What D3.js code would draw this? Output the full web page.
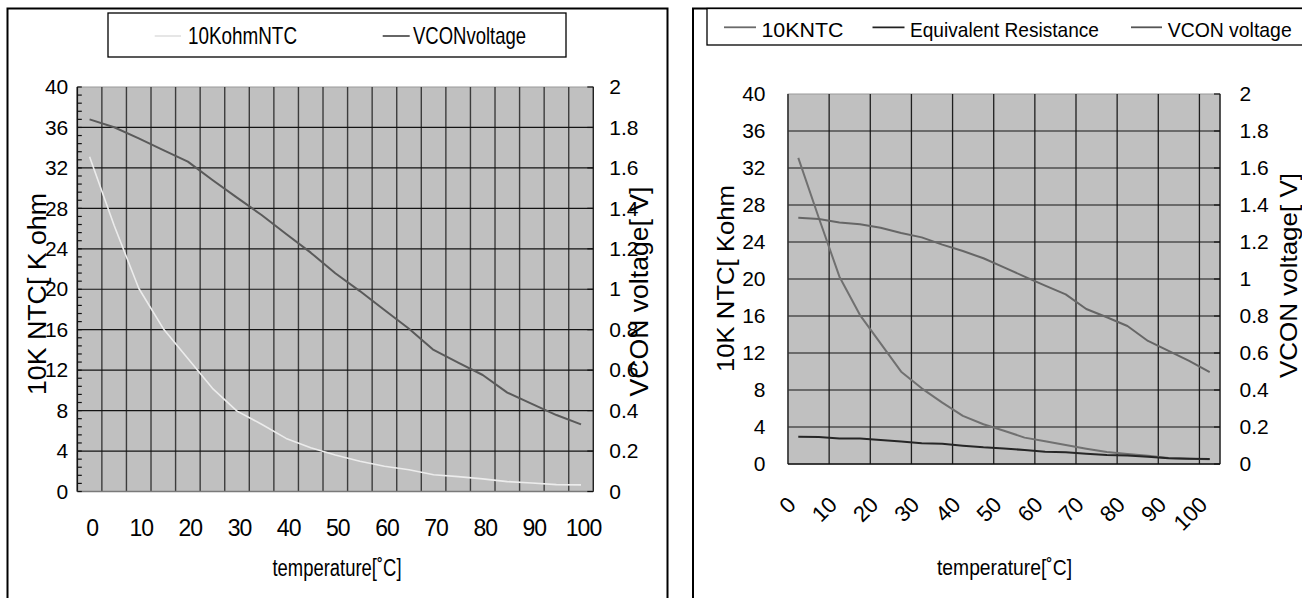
<!DOCTYPE html>
<html><head><meta charset="utf-8">
<script src="https://cdn.jsdelivr.net/npm/d3@7"></script>
<style>
body{margin:0;background:#fff;}
svg{display:block;font-family:"Liberation Sans",Arial,sans-serif;}
</style></head><body>
<svg id="c" width="1302" height="598"></svg>
<script>
// ---------- data ----------
const temps = [0,5,10,15,20,25,30,35,40,45,50,55,60,65,70,75,80,85,90,95,100];
const xTickValues = [0,10,20,30,40,50,60,70,80,90,100];
const xTickLabels = ["0","10","20","30","40","50","60","70","80","90","100"];
const leftTicks = [0,4,8,12,16,20,24,28,32,36,40];
const leftTickLabels = ["0","4","8","12","16","20","24","28","32","36","40"];
const rightTicks = [0,0.2,0.4,0.6,0.8,1,1.2,1.4,1.6,1.8,2];
const rightTickLabels = ["0","0.2","0.4","0.6","0.8","1","1.2","1.4","1.6","1.8","2"];

// left chart
const ntcLeft  = [33.1,26.3,20.1,16.1,13.15,10.2,7.95,6.65,5.25,4.33,3.6,3.0,2.5,2.15,1.65,1.47,1.25,0.98,0.84,0.68,0.66];
const vconLeft = [1.840,1.801,1.746,1.688,1.631,1.540,1.453,1.367,1.273,1.181,1.079,0.991,0.897,0.805,0.700,0.637,0.576,0.489,0.433,0.378,0.332];
const legendLeft = ["10KohmNTC","VCONvoltage"];

// right chart
const ntcRight  = [33.1,26.6,20.25,16.1,13.05,9.98,8.18,6.63,5.2,4.3,3.6,2.85,2.45,2.05,1.66,1.3,1.08,0.9,0.65,0.58,0.5];
const eqRight   = [2.95,2.92,2.77,2.77,2.6,2.42,2.24,2.2,1.98,1.8,1.68,1.51,1.33,1.26,1.12,0.97,0.93,0.79,0.61,0.58,0.54];
const vconRight = [1.331,1.324,1.306,1.296,1.277,1.249,1.225,1.186,1.151,1.112,1.063,1.013,0.964,0.917,0.838,0.793,0.746,0.665,0.611,0.557,0.497];
const legendRight = ["10KNTC","Equivalent Resistance","VCON voltage"];

const yTitleLeft = "10K NTC[ K ohm";
const yTitleLeft2 = "10K NTC[ Kohm";
const yTitleRight = "VCON voltage[ V]";
const xTitle = "temperature[\u02DAC]";

// ---------- drawing ----------
const svg = d3.select("#c");

// panel frames
svg.append("path").attr("d","M7.5,600V8.5H667.5V600").attr("fill","none").attr("stroke","#000").attr("stroke-width",2);
svg.append("path").attr("d","M693,600V8.5H1310").attr("fill","none").attr("stroke","#000").attr("stroke-width",2);

function panel(cfg){
  const g = svg.append("g");
  const x = d3.scaleBand().domain(temps).range([cfg.x0,cfg.x1]).paddingInner(0).paddingOuter(0);
  const yL = d3.scaleLinear().domain([0,40]).range([cfg.yb,cfg.yt]);
  const yR = d3.scaleLinear().domain([0,2]).range([cfg.yb,cfg.yt]);

  g.append("rect").attr("x",cfg.x0).attr("y",cfg.yt).attr("width",cfg.x1-cfg.x0).attr("height",cfg.yb-cfg.yt)
    .attr("fill","#c0c0c0").attr("stroke","#9a9a9a").attr("stroke-width",1);

  // vertical gridlines at category boundaries
  const vb = temps.map((t,i)=>({t,i})).filter(d=>d.i%cfg.vstep===0 && d.i>0).map(d=>x(d.t));
  g.selectAll(null).data(vb).enter().append("line")
    .attr("x1",d=>d).attr("x2",d=>d).attr("y1",cfg.yt).attr("y2",cfg.yb)
    .attr("stroke",cfg.vcol).attr("stroke-width",cfg.vw);
  // horizontal gridlines
  g.selectAll(null).data(leftTicks.slice(1,-1)).enter().append("line")
    .attr("x1",cfg.x0).attr("x2",cfg.x1).attr("y1",d=>yL(d)).attr("y2",d=>yL(d))
    .attr("stroke","#141414").attr("stroke-width",1.2);

  // axes lines
  g.append("line").attr("x1",cfg.x0).attr("x2",cfg.x0).attr("y1",cfg.yt).attr("y2",cfg.yb).attr("stroke",cfg.leftAxisCol).attr("stroke-width",1.6);
  g.append("line").attr("x1",cfg.x1).attr("x2",cfg.x1).attr("y1",cfg.yt).attr("y2",cfg.yb).attr("stroke","#222").attr("stroke-width",1.4);
  g.append("line").attr("x1",cfg.x0).attr("x2",cfg.x1).attr("y1",cfg.yb).attr("y2",cfg.yb).attr("stroke",cfg.bottomCol).attr("stroke-width",1.6);

  // minor ticks on left axis
  if(cfg.minor){
    const mt = d3.range(0,40.001,0.8);
    g.selectAll(null).data(mt).enter().append("line")
      .attr("x1",cfg.x0).attr("x2",cfg.x0+4.5).attr("y1",d=>yL(d)).attr("y2",d=>yL(d))
      .attr("stroke","#111").attr("stroke-width",1.2);
  }
  // inner ticks on right axis
  g.selectAll(null).data(rightTicks).enter().append("line")
    .attr("x1",cfg.x1-6).attr("x2",cfg.x1).attr("y1",d=>yR(d)).attr("y2",d=>yR(d))
    .attr("stroke","#111").attr("stroke-width",1.2);

  // series
  const cx = t => x(t)+x.bandwidth()/2;
  cfg.series.forEach(s=>{
    const sc = s.axis==="L"?yL:yR;
    const line = d3.line().x((d,i)=>cx(temps[i])).y(d=>sc(d));
    g.append("path").datum(s.values).attr("d",line).attr("fill","none")
      .attr("stroke",s.color).attr("stroke-width",s.w).attr("stroke-linejoin","round");
  });

  // left axis labels
  const aL = g.append("g").attr("transform",`translate(${cfg.x0},0)`)
    .call(d3.axisLeft(yL).tickValues(leftTicks).tickFormat((d,i)=>leftTickLabels[i]).tickSize(0).tickPadding(cfg.lpad));
  aL.select(".domain").remove();
  aL.selectAll("text").attr("font-size",cfg.yfs).attr("fill","#000").attr("font-family","Liberation Sans, Arial, sans-serif");

  const aR = g.append("g").attr("transform",`translate(${cfg.x1},0)`)
    .call(d3.axisRight(yR).tickValues(rightTicks).tickFormat((d,i)=>rightTickLabels[i]).tickSize(0).tickPadding(cfg.rpad));
  aR.select(".domain").remove();
  aR.selectAll("text").attr("font-size",cfg.yfs).attr("fill","#000").attr("font-family","Liberation Sans, Arial, sans-serif");

  const aB = g.append("g").attr("transform",`translate(0,${cfg.yb})`)
    .call(d3.axisBottom(x).tickValues(xTickValues).tickFormat((d,i)=>xTickLabels[i]).tickSize(0).tickPadding(cfg.bpad));
  aB.select(".domain").remove();
  aB.selectAll("text").attr("font-size",cfg.xfs).attr("fill","#000").attr("font-family","Liberation Sans, Arial, sans-serif");
  if(cfg.rotate){
    aB.selectAll("text").attr("y",0).attr("dy",0).attr("x",0).attr("text-anchor","end")
      .attr("transform",`translate(-1,${cfg.rotY}) rotate(-45)`);
  } else {
    aB.selectAll("text").attr("dx",2.5).attr("letter-spacing",-1);
  }

  // axis titles
  const t1 = cfg.tL;
  g.append("text").attr("transform",`translate(${t1.x},${t1.y}) rotate(-90)`).attr("text-anchor","middle")
    .attr("font-size",t1.fs).attr("textLength",t1.len).attr("lengthAdjust","spacingAndGlyphs").text(t1.text);
  const t2 = cfg.tR;
  g.append("text").attr("transform",`translate(${t2.x},${t2.y}) rotate(-90)`).attr("text-anchor","middle")
    .attr("font-size",t2.fs).attr("textLength",t2.len).attr("lengthAdjust","spacingAndGlyphs").text(t2.text);
  const t3 = cfg.tX;
  g.append("text").attr("x",t3.x).attr("y",t3.y)
    .attr("font-size",t3.fs).attr("textLength",t3.len).attr("lengthAdjust","spacingAndGlyphs").text(t3.text);

  // legend
  const lg = cfg.legend;
  g.append("rect").attr("x",lg.box[0]).attr("y",lg.box[1]).attr("width",lg.box[2]).attr("height",lg.box[3])
    .attr("fill","#fff").attr("stroke","#000").attr("stroke-width",1.3);
  lg.items.forEach(it=>{
    g.append("line").attr("x1",it.l0).attr("x2",it.l1).attr("y1",lg.ly).attr("y2",lg.ly)
      .attr("stroke",it.color).attr("stroke-width",1.8);
    g.append("text").attr("x",it.tx).attr("y",lg.ty).attr("font-size",lg.fs)
      .attr("textLength",it.len).attr("lengthAdjust","spacingAndGlyphs").text(it.text);
  });
}

panel({
  x0:77.3, x1:593.3, yt:87, yb:491.5, vstep:1, vcol:"#3c3c3c", vw:1.4,
  leftAxisCol:"#111", bottomCol:"#7a7a7a", minor:true,
  lpad:9, rpad:16, bpad:28.5, yfs:21, xfs:23, rotate:false,
  series:[
    {values:ntcLeft, axis:"L", color:"#ececec", w:1.6},
    {values:vconLeft, axis:"R", color:"#5a5a5a", w:2}
  ],
  tL:{x:45.5,y:294,fs:26,len:202,text:yTitleLeft},
  tR:{x:648,y:291.5,fs:26,len:210,text:yTitleRight},
  tX:{x:272.5,y:576,fs:23,len:129,text:xTitle},
  legend:{box:[108,13,458,44], ly:36, ty:44, fs:24, items:[
    {l0:154.7,l1:181,color:"#e4e4e4",tx:188,len:109,text:legendLeft[0]},
    {l0:382.7,l1:409.7,color:"#555",tx:413,len:113,text:legendLeft[1]}
  ]}
});

panel({
  x0:788, x1:1220, yt:94, yb:464, vstep:2, vcol:"#1e1e1e", vw:1.3,
  leftAxisCol:"#333", bottomCol:"#111", minor:false,
  lpad:22.5, rpad:19.6, bpad:0, yfs:21, xfs:22, rotate:true, rotY:42,
  series:[
    {values:ntcRight, axis:"L", color:"#707070", w:2},
    {values:eqRight, axis:"L", color:"#262626", w:2},
    {values:vconRight, axis:"R", color:"#666666", w:2}
  ],
  tL:{x:733.5,y:278.5,fs:24,len:187,text:yTitleLeft2},
  tR:{x:1297,y:275.5,fs:24,len:205,text:yTitleRight},
  tX:{x:937,y:575,fs:22,len:135,text:xTitle},
  legend:{box:[707,8.5,620,36.5], ly:27.3, ty:36.5, fs:21, items:[
    {l0:724,l1:756,color:"#6a6a6a",tx:761.4,len:82,text:legendRight[0]},
    {l0:872.5,l1:904.5,color:"#222",tx:910,len:189,text:legendRight[1]},
    {l0:1131,l1:1162,color:"#555",tx:1167.7,len:124,text:legendRight[2]}
  ]}
});
</script>
</body></html>
